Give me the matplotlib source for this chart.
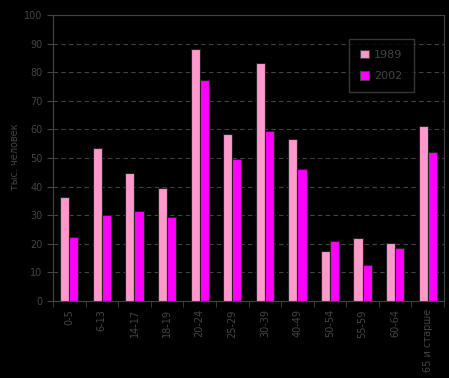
import numpy as np
import matplotlib.pyplot as plt

ages = ['0-5', '6-13', '14-17', '18-19', '20-24', '25-29', '30-39', '40-49',
        '50-54', '55-59', '60-64', '65 и старше']
y1989 = [36.4, 53.5, 44.8, 39.5, 88.1, 58.4, 83.2, 56.6, 17.5, 22.0, 20.3, 61.2]
y2002 = [22.4, 30.0, 31.5, 29.4, 77.3, 49.7, 59.4, 46.2, 21.0, 12.6, 18.5, 52.1]

gray = '#444444'
fig = plt.figure(figsize=(4.49, 3.78), dpi=100, facecolor='black')
ax = fig.add_axes([0.118, 0.204, 0.871, 0.756], facecolor='black')

x = np.arange(len(ages))
w = 0.28
ax.bar(x - w/2, y1989, w, color='#FF99CC', edgecolor='#222222', linewidth=0.8, label='1989', zorder=3)
ax.bar(x + w/2, y2002, w, color='#FF00FF', edgecolor='#222222', linewidth=0.8, label='2002', zorder=3)

ax.set_xlim(-0.5, len(ages) - 0.5)
ax.set_ylim(0, 100)
ax.set_yticks(range(0, 101, 10))
ax.yaxis.grid(True, color=gray, linestyle=(0, (4, 3)), linewidth=0.8)
ax.set_axisbelow(True)

ax.set_xticks(x)
ax.set_xticklabels(ages, rotation=90, color=gray, fontsize=7)
ax.set_xticks(np.arange(-0.5, len(ages)), minor=True)
ax.tick_params(axis='x', which='major', length=0, pad=6)
ax.tick_params(axis='x', which='minor', length=4, color=gray)
ax.tick_params(axis='y', colors=gray, labelsize=7, length=4)
for s in ax.spines.values():
    s.set_color(gray)

fig.text(15 / 449, 0.585, 'тыс. человек', color=gray, fontsize=7,
         rotation=90, ha='center', va='center')

leg = ax.legend(loc='upper left', bbox_to_anchor=(0.75, 0.925), frameon=True,
                fontsize=8, handlelength=0.8, handleheight=0.8, labelspacing=1.0,
                borderpad=0.7, handletextpad=0.5)
leg.get_frame().set_facecolor('black')
leg.get_frame().set_edgecolor(gray)
leg.get_frame().set_boxstyle('square')
for t in leg.get_texts():
    t.set_color(gray)
for h in leg.legend_handles:
    h.set_edgecolor(gray)

plt.savefig('out.png', dpi=100, facecolor='black')
